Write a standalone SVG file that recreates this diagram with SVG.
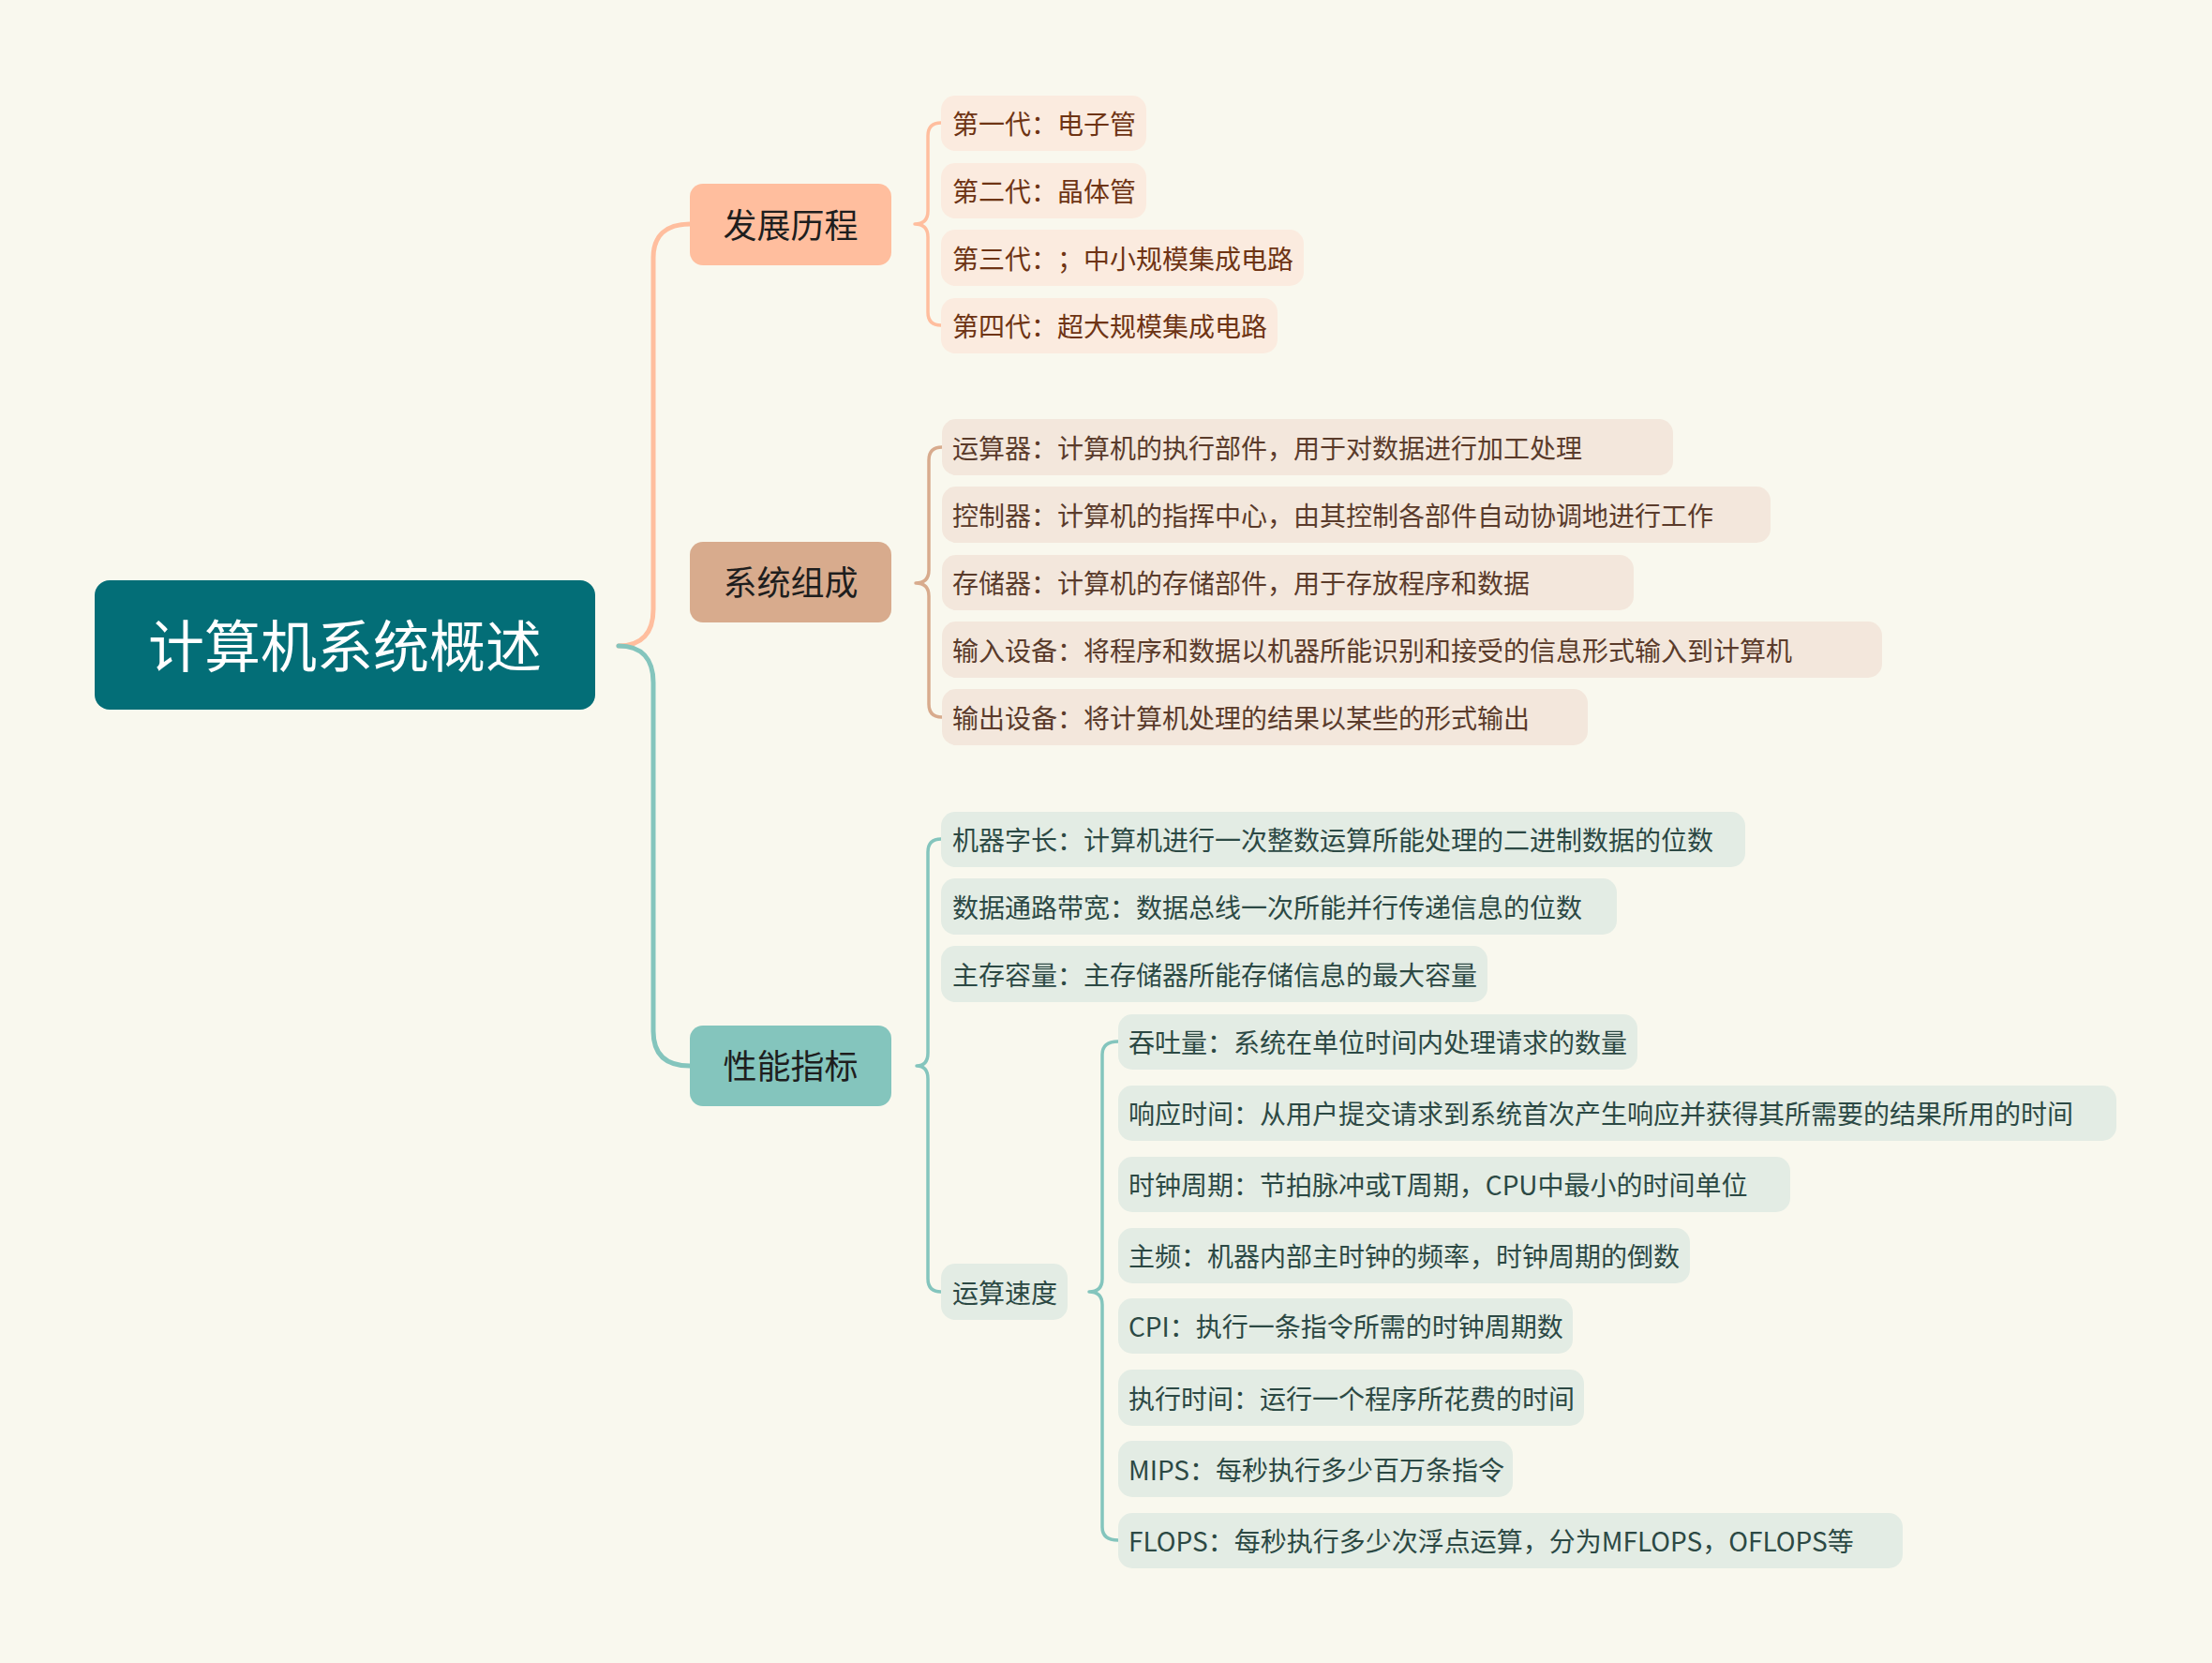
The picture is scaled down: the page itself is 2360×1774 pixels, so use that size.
<svg xmlns="http://www.w3.org/2000/svg" width="2360" height="1774" viewBox="0 0 2360 1774">
<style>
text{font-family:"Noto Sans CJK SC","Noto Sans",sans-serif;text-spacing-trim:space-all;}
.bg{fill:#F9F8EE;}
.root{fill:#036E77;}
.rt{fill:#FFFFFF;font-size:60px;}
.l1t{fill:#1E1E1E;font-size:36px;}
.n1{fill:#FFBE9E;}
.n2{fill:#D8AB8D;}
.n3{fill:#84C5BD;}
.c1{fill:#FBEBDF;}
.c2{fill:#F3E7DC;}
.c3{fill:#E3ECE4;}
.t1{fill:#6E3414;font-size:28px;}
.t2{fill:#5A3B2B;font-size:28px;}
.t3{fill:#2C4944;font-size:28px;}
.e{fill:none;stroke-linecap:round;stroke-linejoin:round;}
.s1{stroke:#FFBE9E;}
.s2{stroke:#D8AB8D;}
.s3{stroke:#84C5BD;}
.w5{stroke-width:5;}
.w3{stroke-width:3.5;}
</style>
<rect class="bg" x="0" y="0" width="2360" height="1774"/>
<g id="connectors">
<path class="e s1 w5" d="M660,689 C685,689 697,675 697,650 L697,275 C697,252 710,239 736,239"/>
<path class="e s3 w5" d="M660,689 C685,689 697,703 697,728 L697,1100 C697,1125 710,1137 736,1137"/>
<path class="e s1 w3" d="M976,239 Q990,239 990,225 L990,145 Q990,131 1004,131 M976,239 Q990,239 990,253 L990,333 Q990,347 1004,347"/>
<path class="e s2 w3" d="M977,622 Q991,622 991,608 L991,491 Q991,477 1005,477 M977,622 Q991,622 991,636 L991,751 Q991,765 1005,765"/>
<path class="e s3 w3" d="M978,1137 Q990,1137 990,1123 L990,909 Q990,895 1004,895 M978,1137 Q990,1137 990,1151 L990,1364 Q990,1378 1004,1378"/>
<path class="e s3 w3" d="M1162,1378 Q1176,1378 1176,1364 L1176,1125 Q1176,1111 1193,1111 M1162,1378 Q1176,1378 1176,1392 L1176,1629 Q1176,1643 1193,1643"/>
</g>
<g id="root">
<rect class="root" x="101" y="619" width="534" height="138" rx="16"/>
<text class="rt" x="368" y="712" text-anchor="middle">计算机系统概述</text>
</g>
<g id="n-fazhan">
<rect class="n1" x="736" y="196" width="215" height="87" rx="14"/>
<text class="l1t" x="843.5" y="254" text-anchor="middle">发展历程</text>
</g>
<g id="n-zucheng">
<rect class="n2" x="736" y="578" width="215" height="86" rx="14"/>
<text class="l1t" x="843.5" y="635" text-anchor="middle">系统组成</text>
</g>
<g id="n-xingneng">
<rect class="n3" x="736" y="1094" width="215" height="86" rx="14"/>
<text class="l1t" x="843.5" y="1151" text-anchor="middle">性能指标</text>
</g>
<g id="a1"><rect class="c1" x="1004" y="102" width="219" height="59" rx="15"/><text class="t1" x="1016" y="143">第一代：电子管</text></g>
<g id="a2"><rect class="c1" x="1004" y="174" width="219" height="59" rx="15"/><text class="t1" x="1016" y="215">第二代：晶体管</text></g>
<g id="a3"><rect class="c1" x="1004" y="245" width="387" height="60" rx="15"/><text class="t1" x="1016" y="287">第三代：<tspan x="1128">；</tspan><tspan x="1156">中小规模集成电路</tspan></text></g>
<g id="a4"><rect class="c1" x="1004" y="318" width="359" height="59" rx="15"/><text class="t1" x="1016" y="359">第四代：超大规模集成电路</text></g>
<g id="b1"><rect class="c2" x="1005" y="447" width="780" height="60" rx="15"/><text class="t2" x="1016" y="489">运算器：计算机的执行部件，用于对数据进行加工处理</text></g>
<g id="b2"><rect class="c2" x="1005" y="519" width="884" height="60" rx="15"/><text class="t2" x="1016" y="561">控制器：计算机的指挥中心，由其控制各部件自动协调地进行工作</text></g>
<g id="b3"><rect class="c2" x="1005" y="592" width="738" height="59" rx="15"/><text class="t2" x="1016" y="633">存储器：计算机的存储部件，用于存放程序和数据</text></g>
<g id="b4"><rect class="c2" x="1005" y="663" width="1003" height="60" rx="15"/><text class="t2" x="1016" y="705">输入设备：将程序和数据以机器所能识别和接受的信息形式输入到计算机</text></g>
<g id="b5"><rect class="c2" x="1005" y="735" width="689" height="60" rx="15"/><text class="t2" x="1016" y="777">输出设备：将计算机处理的结果以某些的形式输出</text></g>
<g id="c1"><rect class="c3" x="1004" y="866" width="858" height="59" rx="15"/><text class="t3" x="1016" y="907">机器字长：计算机进行一次整数运算所能处理的二进制数据的位数</text></g>
<g id="c2"><rect class="c3" x="1004" y="937" width="721" height="60" rx="15"/><text class="t3" x="1016" y="979">数据通路带宽：数据总线一次所能并行传递信息的位数</text></g>
<g id="c3"><rect class="c3" x="1004" y="1009" width="583" height="60" rx="15"/><text class="t3" x="1016" y="1051">主存容量：主存储器所能存储信息的最大容量</text></g>
<g id="c4"><rect class="c3" x="1004" y="1348" width="135" height="60" rx="15"/><text class="t3" x="1016" y="1390">运算速度</text></g>
<g id="d1"><rect class="c3" x="1193" y="1082" width="554" height="59" rx="15"/><text class="t3" x="1204" y="1123">吞吐量：系统在单位时间内处理请求的数量</text></g>
<g id="d2"><rect class="c3" x="1193" y="1158" width="1065" height="59" rx="15"/><text class="t3" x="1204" y="1199">响应时间：从用户提交请求到系统首次产生响应并获得其所需要的结果所用的时间</text></g>
<g id="d3"><rect class="c3" x="1193" y="1234" width="717" height="59" rx="15"/><text class="t3" x="1204" y="1275">时钟周期：节拍脉冲或T周期，CPU中最小的时间单位</text></g>
<g id="d4"><rect class="c3" x="1193" y="1310" width="610" height="59" rx="15"/><text class="t3" x="1204" y="1351">主频：机器内部主时钟的频率，时钟周期的倒数</text></g>
<g id="d5"><rect class="c3" x="1193" y="1385" width="485" height="59" rx="15"/><text class="t3" x="1204" y="1426">CPI：执行一条指令所需的时钟周期数</text></g>
<g id="d6"><rect class="c3" x="1193" y="1461" width="497" height="60" rx="15"/><text class="t3" x="1204" y="1503">执行时间：运行一个程序所花费的时间</text></g>
<g id="d7"><rect class="c3" x="1193" y="1537" width="421" height="60" rx="15"/><text class="t3" x="1204" y="1579">MIPS：每秒执行多少百万条指令</text></g>
<g id="d8"><rect class="c3" x="1193" y="1614" width="837" height="59" rx="15"/><text class="t3" x="1204" y="1655">FLOPS：每秒执行多少次浮点运算，分为MFLOPS，OFLOPS等</text></g>
</svg>
